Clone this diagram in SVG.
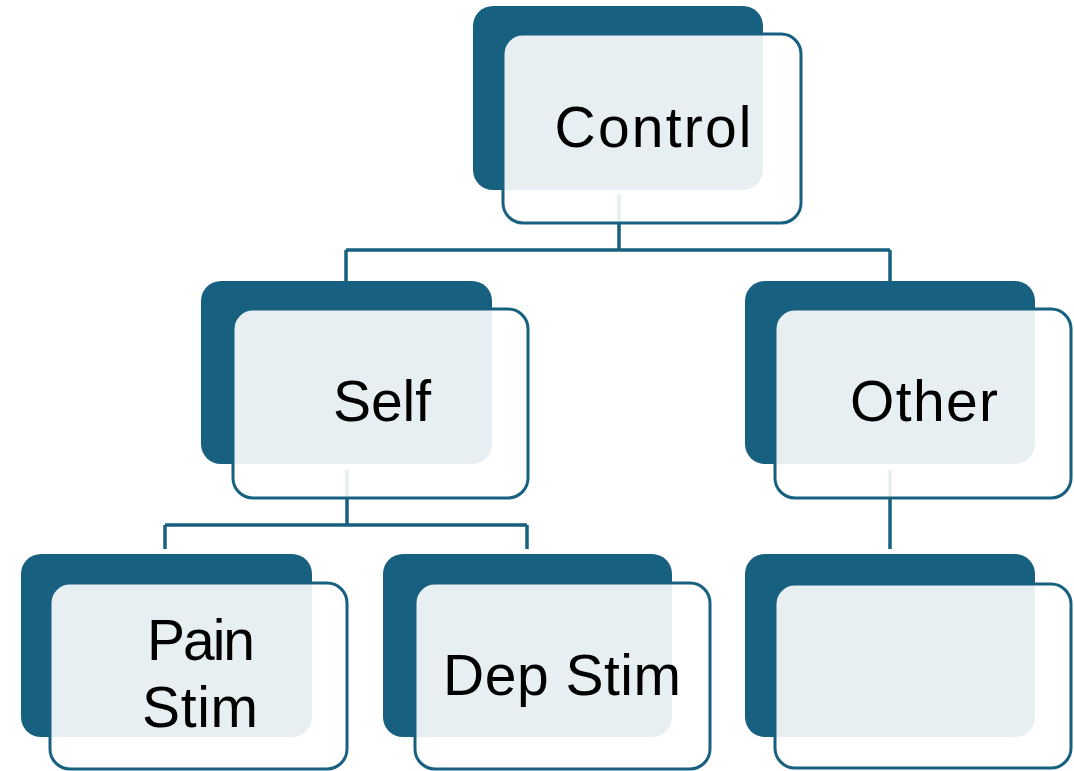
<svg xmlns="http://www.w3.org/2000/svg" width="1074" height="771" viewBox="0 0 1074 771">
  <style>
    .back { fill: #17607F; }
    .front { fill: #FFFFFF; fill-opacity: 0.9; stroke: #17607F; stroke-width: 3; }
    .conn { fill: none; stroke: #17607F; stroke-width: 3.5; }
    .label { font-family: "Liberation Sans", Arial, sans-serif; font-size: 57px; fill: #000000; text-anchor: middle; }
  </style>
  <rect width="1074" height="771" fill="#FFFFFF"/>

  <!-- back panels -->
  <g id="backs">
    <rect class="back" x="473" y="6" width="290" height="184" rx="20"/>
    <rect class="back" x="201" y="281" width="291" height="183" rx="20"/>
    <rect class="back" x="745" y="281" width="290" height="183" rx="20"/>
    <rect class="back" x="21" y="554" width="291" height="183" rx="20"/>
    <rect class="back" x="383" y="554" width="289" height="183" rx="20"/>
    <rect class="back" x="745" y="554" width="290" height="183" rx="20"/>
  </g>

  <!-- connectors -->
  <g id="connectors">
    <path class="conn" d="M619 194 V250 M346 250 H890 M346 250 V282 M890 250 V282"/>
    <path class="conn" d="M347 470 V525 M165 525 H527 M165 525 V549 M527 525 V549"/>
    <path class="conn" d="M890 470 V549"/>
  </g>

  <g id="control">
    <rect class="front" x="503" y="34" width="298" height="189" rx="20"/>
    <text class="label" x="653" y="147" textLength="197" lengthAdjust="spacing">Control</text>
  </g>
  <g id="self">
    <rect class="front" x="233" y="309" width="295" height="189" rx="20"/>
    <text class="label" x="382" y="421" textLength="98" lengthAdjust="spacing">Self</text>
  </g>
  <g id="other">
    <rect class="front" x="775" y="309" width="296" height="189" rx="20"/>
    <text class="label" x="924" y="421" textLength="148" lengthAdjust="spacing">Other</text>
  </g>
  <g id="pain-stim">
    <rect class="front" x="50" y="583" width="297" height="186" rx="20"/>
    <text class="label" x="201" y="660" font-size="54" textLength="108" lengthAdjust="spacing">Pain</text>
    <text class="label" x="200" y="727" font-size="54" textLength="116" lengthAdjust="spacing">Stim</text>
  </g>
  <g id="dep-stim">
    <rect class="front" x="415" y="583" width="295" height="186" rx="20"/>
    <text class="label" x="562" y="695" font-size="54" textLength="238" lengthAdjust="spacing">Dep Stim</text>
  </g>
  <g id="empty-node">
    <rect class="front" x="775" y="584" width="296" height="184" rx="20"/>
  </g>
</svg>
